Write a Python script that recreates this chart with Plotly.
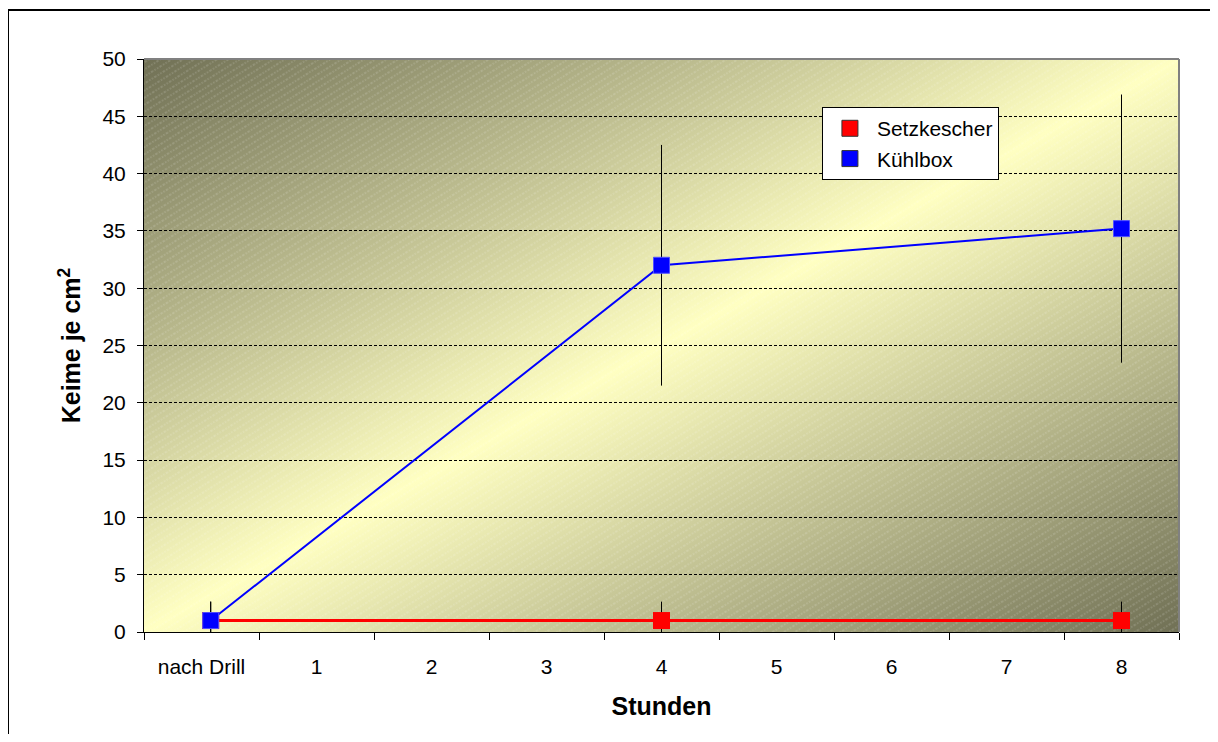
import base64
import plotly.graph_objects as go

# ---- data ----
categories = ["nach Drill", "1", "2", "3", "4", "5", "6", "7", "8"]
hours = [0.08, 4, 8]
setzkescher = [1.0, 1.0, 1.0]
setzkescher_err = [1.65, 1.65, 1.65]
kuehlbox = [1.0, 32.0, 35.2]
kuehlbox_err = [1.65, 10.5, 11.7]

FONT = "Liberation Sans, Arial, sans-serif"

# plot-area background: Excel-like diagonal two-tone gradient with hatch
svg = """<svg xmlns='http://www.w3.org/2000/svg' width='1035' height='573' viewBox='0 0 1035 573' preserveAspectRatio='none'>
<defs>
<linearGradient id='g' x1='0' y1='0' x2='1' y2='1'>
<stop offset='0' stop-color='#707055'/>
<stop offset='0.5' stop-color='#ffffc2'/>
<stop offset='1' stop-color='#707055'/>
</linearGradient>
<pattern id='h' patternUnits='userSpaceOnUse' width='10' height='6' patternTransform='rotate(-32)'>
<line x1='0' y1='3' x2='10' y2='3' stroke='#ffffff' stroke-opacity='0.28' stroke-width='1' stroke-dasharray='1.5,1.5'/>
</pattern>
</defs>
<rect width='1035' height='573' fill='url(#g)'/>
<rect width='1035' height='573' fill='url(#h)'/>
</svg>"""
bg_uri = "data:image/svg+xml;base64," + base64.b64encode(svg.encode()).decode()

fig = go.Figure()

fig.add_trace(go.Scatter(
    x=hours, y=setzkescher, mode="lines+markers", name="Setzkescher",
    line=dict(color="#ff0000", width=3),
    marker=dict(symbol="square", size=17, color="#ff0000"),
    error_y=dict(type="data", array=setzkescher_err, color="black", thickness=1, width=0),
    showlegend=False,
))
fig.add_trace(go.Scatter(
    x=hours, y=kuehlbox, mode="lines+markers", name="Kühlbox",
    line=dict(color="#0000ff", width=2),
    marker=dict(symbol="square", size=16, color="#0000ff",
                line=dict(color="#5050ff", width=1)),
    error_y=dict(type="data", array=kuehlbox_err, color="black", thickness=1, width=0),
    showlegend=False,
))
# legend entries (marker only, as in the original)
fig.add_trace(go.Scatter(
    x=[None], y=[None], mode="markers", name="Setzkescher",
    marker=dict(symbol="square", size=17, color="#ff0000", line=dict(color="#333333", width=1)),
))
fig.add_trace(go.Scatter(
    x=[None], y=[None], mode="markers", name="Kühlbox",
    marker=dict(symbol="square", size=17, color="#0000ff", line=dict(color="#333333", width=1)),
))

# overlay axis carrying the category labels
fig.add_trace(go.Scatter(x=[None], y=[None], xaxis="x2", showlegend=False, hoverinfo="skip"))

fig.update_layout(
    width=1202, height=726,
    margin=dict(l=136, r=31, t=51, b=102),
    paper_bgcolor="white",
    plot_bgcolor="rgba(0,0,0,0)",
    font=dict(family=FONT, size=21, color="black"),
    images=[dict(source=bg_uri, xref="paper", yref="paper", x=0, y=1,
                 sizex=1, sizey=1, sizing="stretch", layer="below",
                 xanchor="left", yanchor="top")],
    xaxis=dict(
        range=[-0.5, 8.5], showgrid=False, zeroline=False,
        showline=True, linecolor="black", linewidth=1,
        tickvals=[], ticks="",
        minor=dict(tickmode="linear", tick0=-0.5, dtick=1, ticks="outside",
                   ticklen=7, tickcolor="black", tickwidth=1, showgrid=False),
        title=dict(text="<b>Stunden</b>", font=dict(size=25), standoff=61),
    ),
    xaxis2=dict(
        overlaying="x", matches="x", side="bottom", range=[-0.5, 8.5],
        tickmode="array", tickvals=list(range(len(categories))), ticktext=categories,
        showgrid=False, zeroline=False, showline=False, ticks="",
        ticklabelstandoff=20, tickfont=dict(size=21),
    ),
    yaxis=dict(
        range=[0, 50], dtick=5, tick0=0,
        showgrid=True, gridcolor="black", gridwidth=1, griddash="3px,2px",
        zeroline=False, showline=True, linecolor="black", linewidth=1,
        ticks="outside", ticklen=6, tickcolor="black",
        ticklabelstandoff=7, tickfont=dict(size=21),
        title=dict(text="<b>Keime je cm<sup>2</sup></b>", font=dict(size=25), standoff=14),
    ),
    legend=dict(
        x=0.655, y=0.916, xanchor="left", yanchor="top",
        bgcolor="white", bordercolor="black", borderwidth=1,
        font=dict(size=21), itemwidth=44, tracegroupgap=0,
        entrywidth=188, entrywidthmode="pixels",
    ),
    shapes=[
        # gray plot-area frame (top and right)
        dict(type="line", xref="paper", yref="paper", x0=0, x1=1, y0=1, y1=1,
             line=dict(color="#808080", width=2), layer="above"),
        dict(type="line", xref="paper", yref="paper", x0=1, x1=1, y0=0, y1=1,
             line=dict(color="#808080", width=2), layer="above"),
        # outer chart frame
        dict(type="rect", xref="paper", yref="paper", x0=-0.1314, x1=1.06,
             y0=-0.22, y1=1.0855, line=dict(color="black", width=2),
             fillcolor="rgba(0,0,0,0)", layer="below"),
    ],
)

fig.write_html("out.html")
